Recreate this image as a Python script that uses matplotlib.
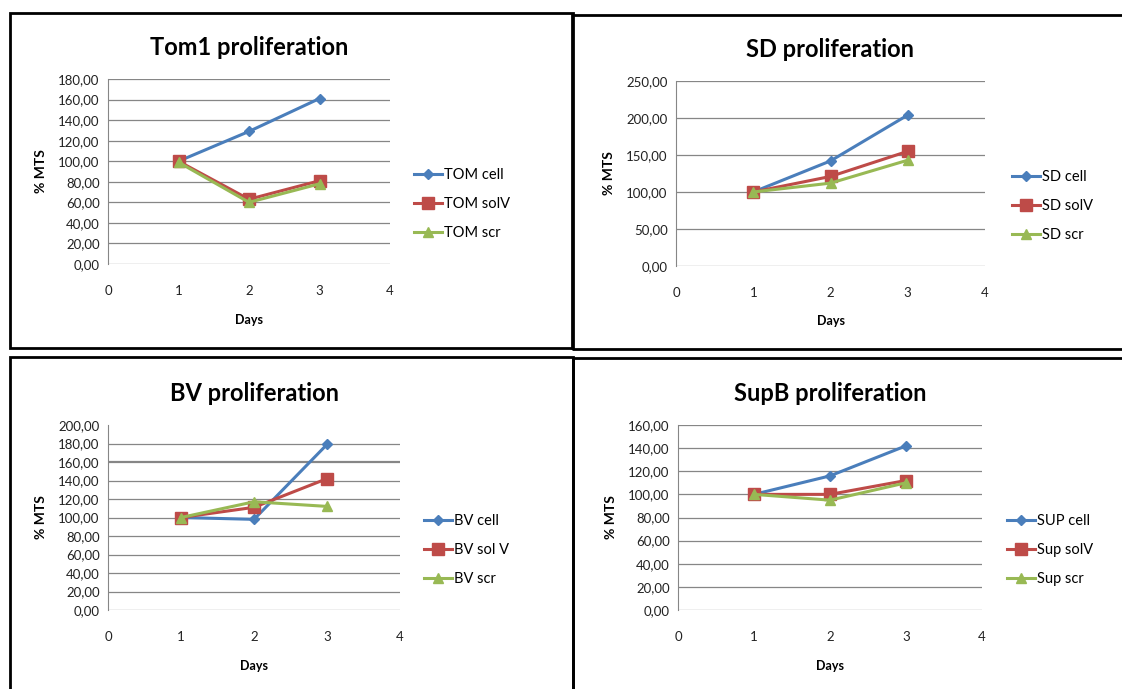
import numpy as np
import matplotlib
matplotlib.use("Agg")
import matplotlib.pyplot as plt
from matplotlib.patches import Rectangle
from matplotlib.ticker import FuncFormatter

plt.rcParams['font.family'] = ['Lato', 'DejaVu Sans']

W, H = 1122, 689

days = [1, 2, 3]

tom_cell = [100, 129, 161]
tom_solv = [100, 63, 81]
tom_scr = [99, 60, 78]

sd_cell = [100, 142, 204]
sd_solv = [100, 121, 155]
sd_scr = [100, 112, 143]

bv_cell = [100, 98, 179]
bv_solv = [100, 111, 142]
bv_scr = [100, 117, 112]

sup_cell = [100, 116, 142]
sup_solv = [100, 100, 112]
sup_scr = [100, 95, 110]

titles = ["Tom1 proliferation", "SD proliferation", "BV proliferation", "SupB proliferation"]
labels = [["TOM cell", "TOM solV", "TOM scr"],
          ["SD cell", "SD solV", "SD scr"],
          ["BV cell", "BV sol V", "BV scr"],
          ["SUP cell", "Sup solV", "Sup scr"]]
series = [[tom_cell, tom_solv, tom_scr],
          [sd_cell, sd_solv, sd_scr],
          [bv_cell, bv_solv, bv_scr],
          [sup_cell, sup_solv, sup_scr]]
ymax = [180, 250, 200, 160]
ystep = [20, 50, 20, 20]

colors = ['#4A7EBB', '#BE4B48', '#98B954']
markers = ['D', 's', '^']
msizes = [5, 8, 7]

# pixel layout: (box l, t, r, b), (axes l, t, r, b)
boxes = [(10, 13, 573, 348), (572, 15, 1130, 349), (10, 357, 573, 695), (573, 358, 1130, 695)]
axboxes = [(108, 79, 390, 264), (676, 81, 985, 266), (108, 425, 400, 610), (678, 425, 982, 610)]
legxy = [(414, 204), (1012, 206), (424, 550), (1007, 550)]

fig = plt.figure(figsize=(W / 100, H / 100), dpi=100)
fig.patch.set_facecolor('white')

def fx(x):
    return x / W

def fy(y):
    return 1 - y / H

for i in range(4):
    bl, bt, br, bb = boxes[i]
    fig.patches.append(Rectangle((fx(bl), fy(bb)), fx(br - bl), (bb - bt) / H,
                                 transform=fig.transFigure, fill=False,
                                 edgecolor='black', linewidth=2, zorder=0))
    al, at, ar, ab = axboxes[i]
    ax = fig.add_axes([fx(al), fy(ab), fx(ar - al), (ab - at) / H])
    ticks = np.arange(0, ymax[i] + 1, ystep[i])
    for t in ticks:
        if i == 2 and t == ymax[i]:
            continue
        lw = 1.6 if (i == 2 and t == 160) else 0.9
        ax.axhline(t, color='#868686', linewidth=lw, zorder=1)
    for k in range(3):
        ax.plot(days, series[i][k], color=colors[k], marker=markers[k],
                markersize=msizes[k], linewidth=2.2, label=labels[i][k], zorder=3)
    ax.set_xlim(0, 4)
    ax.set_ylim(0, ymax[i])
    ax.set_xticks([0, 1, 2, 3, 4])
    ax.set_yticks(ticks)
    ax.yaxis.set_major_formatter(FuncFormatter(lambda v, p: f"{v:.2f}".replace('.', ',')))
    for s in ['top', 'right', 'bottom']:
        ax.spines[s].set_visible(False)
    ax.spines['left'].set_color('#868686')
    ax.tick_params(axis='both', length=0, labelsize=9.5, colors='#222222')
    ax.tick_params(axis='x', pad=15)
    ax.tick_params(axis='y', pad=6)
    ax.set_xlabel('Days', fontsize=9, fontweight='bold', labelpad=12)
    ax.set_ylabel('% MTS', fontsize=10, fontweight='bold', labelpad=8)
    ax.set_title(titles[i], fontsize=17, fontweight='bold', pad=17)
    lx, ly = legxy[i]
    ax.legend(loc='center left', bbox_to_anchor=(fx(lx), fy(ly)),
              bbox_transform=fig.transFigure, frameon=False, fontsize=10.5,
              labelspacing=1.05, handlelength=1.9, handletextpad=0.15,
              borderpad=0, borderaxespad=0)

fig.savefig('out.png', dpi=100, facecolor='white')
